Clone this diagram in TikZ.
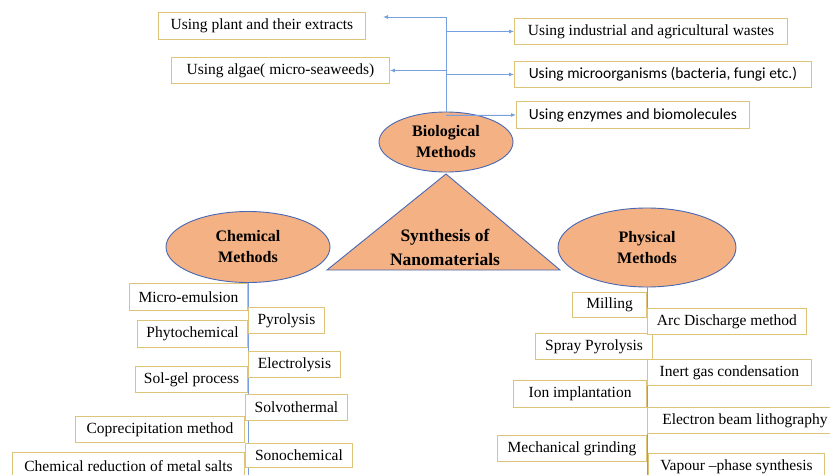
\documentclass[tikz,border=0pt]{standalone}
\usepackage{fontspec}
\setmainfont{Liberation Serif}
\newfontfamily\calibri{Carlito}
\usepackage{tikz}
\usetikzlibrary{arrows.meta,positioning,shapes.geometric}
\definecolor{boxgold}{RGB}{222,196,120}
\definecolor{lineblue}{RGB}{120,160,222}
\definecolor{edgeblue}{RGB}{72,104,180}
\definecolor{peach}{RGB}{244,177,131}

\begin{document}
\begin{tikzpicture}[
  x=1pt,y=-1pt,
  font=\fontsize{15.5}{18}\selectfont,
  bx/.style={draw=boxgold,line width=0.9pt,fill=white,inner xsep=4pt,inner ysep=0pt,minimum height=26pt},
  oval/.style={ellipse,draw=edgeblue,line width=0.9pt,fill=peach,inner sep=0pt,align=center,
               font=\fontsize{16}{21}\selectfont\bfseries},
  spine/.style={draw=lineblue,line width=0.8pt},
  arr/.style={-{Latex[length=5pt,width=4pt]},draw=lineblue,fill=lineblue,line width=0.8pt}
]
\fill[white] (0,0) rectangle (830,474);
\useasboundingbox (0,0) rectangle (830,474);

% ---- centre ----
\coordinate (apex) at (446,174);
\coordinate (baseL) at (327,270);
\coordinate (baseR) at (560,270);
\draw[edgeblue,line width=0.9pt,fill=peach] (apex) -- (baseR) -- (baseL) -- cycle;
\node[font=\fontsize{17.5}{24}\selectfont\bfseries,align=center] (core) at (445,247) {Synthesis of\\Nanomaterials};

% ---- biological branch (top) ----
\coordinate (top) at (446,17);
\coordinate (plantTip) at (383,17);
\node[bx,anchor=north west,minimum width=207pt,minimum height=27pt] (plant) at (158,12) {Using plant and their extracts};
\node[bx,anchor=north west,minimum width=218pt] (algae) at (171,57) {Using algae( micro-seaweeds)};
\node[bx,anchor=north west,minimum width=273pt] (ind) at (514,18) {Using industrial and agricultural wastes};
\node[bx,anchor=north west,minimum width=297pt,font=\fontsize{15.5}{18}\calibri] (micro) at (514,61) {Using microorganisms (bacteria, fungi etc.)};
\node[bx,anchor=north west,minimum width=233pt,minimum height=27pt,font=\fontsize{15.5}{18}\calibri] (enz) at (516,101) {Using enzymes and biomolecules};
\node[oval,minimum width=134pt,minimum height=60pt] (bio) at (446,142) {Biological\\Methods};
\draw[spine] (bio.north) -- (top);
\draw[arr] (top) -- (plantTip);
\draw[arr] (bio.north |- algae.east) -- (algae.east);
\draw[arr] (bio.north |- ind.west) -- (ind.west);
\draw[arr] (bio.north |- micro.west) -- (micro.west);
\draw[arr] (bio.north |- enz.west) -- (enz.west);

% ---- chemical branch (left) ----
\node[oval,minimum width=164pt,minimum height=71pt] (chem) at (248,247) {Chemical\\Methods};
\coordinate (chemfoot) at (248,480);
\draw[spine] (chem.south) -- (chemfoot);
\node[bx,anchor=north east,minimum width=118pt,minimum height=27pt] (emul) at (248,283) {Micro-emulsion};
\node[bx,anchor=north east,minimum width=110pt,minimum height=27pt] (phyto) at (248,320) {Phytochemical};
\node[bx,anchor=north east,minimum width=112pt] (solgel) at (248,366) {Sol-gel process};
\node[bx,anchor=north east,minimum width=169pt] (copre) at (245,416) {Coprecipitation method};
\node[bx,anchor=north east,minimum width=232pt,minimum height=27pt] (reduc) at (245,452) {Chemical reduction of metal salts};
\node[bx,anchor=north west,minimum width=76pt] (pyro) at (248,307) {Pyrolysis};
\node[bx,anchor=north west,minimum width=92pt] (electro) at (248,351) {Electrolysis};
\node[bx,anchor=north west,minimum width=102pt] (solvo) at (245,394) {Solvothermal};
\node[bx,anchor=north west,minimum width=107pt,minimum height=24pt] (sono) at (245,443) {Sonochemical};

% ---- physical branch (right) ----
\node[oval,minimum width=178pt,minimum height=79pt] (phys) at (647,247.5) {Physical\\Methods};
\coordinate (physfoot) at (647,480);
\draw[spine] (phys.south) -- (physfoot);
\node[bx,anchor=north east,minimum width=74pt,minimum height=25pt] (mill) at (647,292) {Milling};
\node[bx,anchor=north east,minimum width=117pt] (spray) at (653,333) {Spray Pyrolysis};
\node[bx,anchor=north east,minimum width=133pt,minimum height=27pt] (implant) at (647,380) {Ion implantation};
\node[bx,anchor=north east,minimum width=149pt] (grind) at (647,435) {Mechanical grinding};
\node[bx,anchor=north west,minimum width=159pt] (arc) at (647,308) {Arc Discharge method};
\node[bx,anchor=north west,minimum width=164pt] (inert) at (647,359) {Inert gas condensation};
\node[bx,anchor=north west,minimum width=195pt] (ebeam) at (647,407) {Electron beam lithography};
\node[bx,anchor=north west,minimum width=176pt,minimum height=27pt] (vapour) at (648,453) {Vapour –phase synthesis};
\end{tikzpicture}
\end{document}
